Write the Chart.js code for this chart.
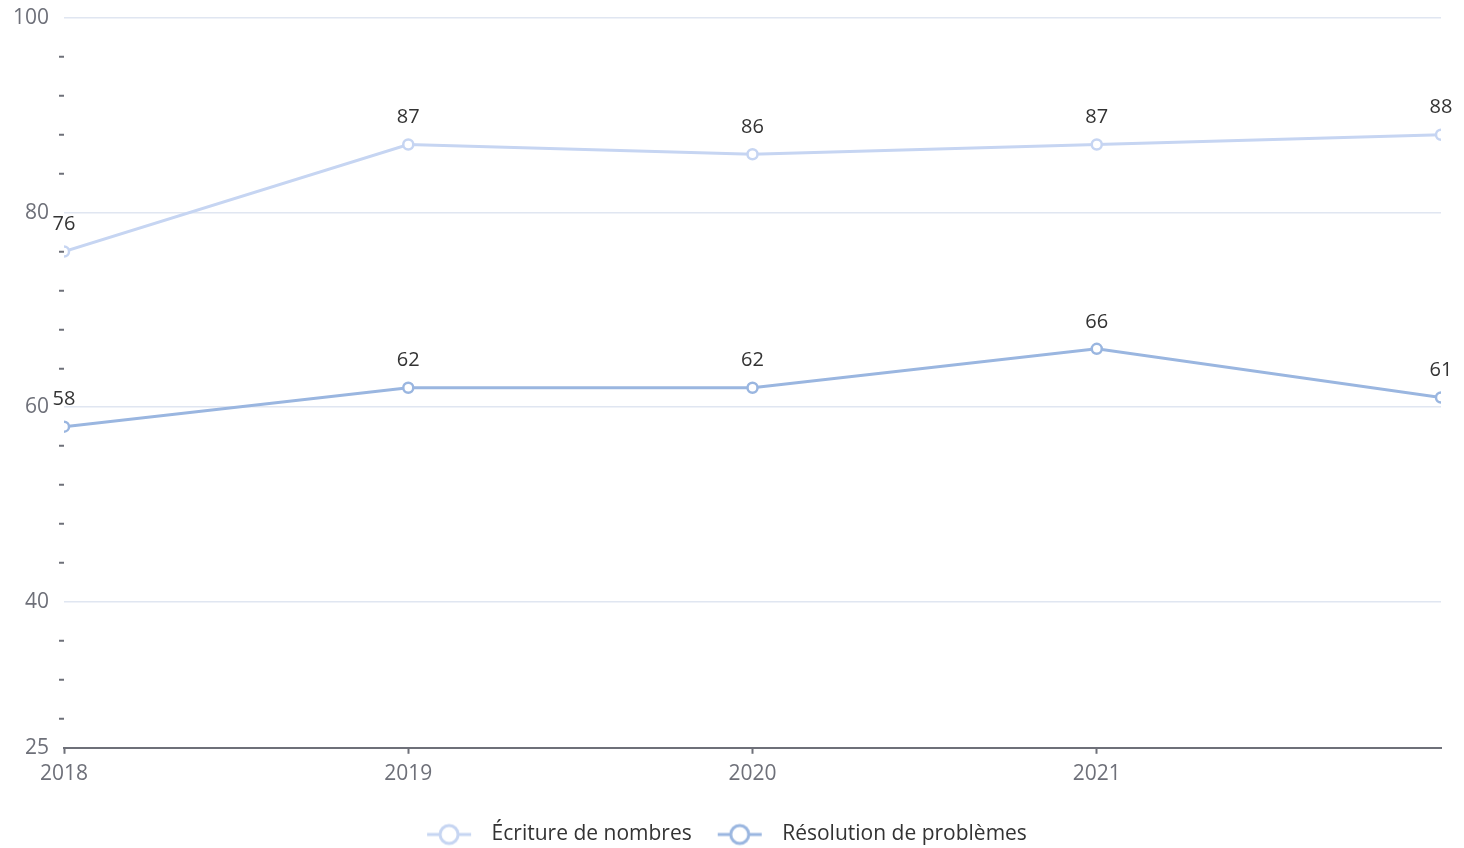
<!DOCTYPE html>
<html>
<head>
<meta charset="utf-8">
<script src="https://cdn.jsdelivr.net/npm/chart.js@4/dist/chart.umd.min.js"></script>
<style>
  html, body { margin: 0; padding: 0; background: #fff; }
  #wrap { position: relative; width: 1464px; height: 848px; }
</style>
</head>
<body>
<div id="wrap"><canvas id="chart"></canvas></div>
<script>
const years = [2018, 2019, 2020, 2021, 2022];
const ecritureValues = [76, 87, 86, 87, 88];
const resolutionValues = [58, 62, 62, 66, 61];
const seriesNames = ['Écriture de nombres', 'Résolution de problèmes'];
const seriesColors = ['#c6d5f2', '#9ab6e0'];
const yMajorTicks = [25, 40, 60, 80, 100];
const yMinorTicks = [28, 32, 36, 44, 48, 52, 56, 64, 68, 72, 76, 84, 88, 92, 96];
const xTickLabels = ['2018', '2019', '2020', '2021'];

const FONT = "'Open Sans', 'Noto Sans', sans-serif";

// small legend icon: line with hollow circle
function legendIcon(color) {
  const c = document.createElement('canvas');
  c.width = 46; c.height = 24;
  const g = c.getContext('2d');
  g.strokeStyle = color;
  g.lineWidth = 3;
  g.beginPath(); g.moveTo(1, 12); g.lineTo(45, 12); g.stroke();
  g.fillStyle = '#fff';
  g.beginPath(); g.arc(23, 12, 9, 0, Math.PI * 2); g.fill(); g.stroke();
  return c;
}

// value labels above the points
const valueLabels = {
  id: 'valueLabels',
  afterDatasetsDraw(chart) {
    const ctx = chart.ctx;
    ctx.save();
    ctx.font = '20px ' + FONT;
    ctx.fillStyle = '#333';
    ctx.textAlign = 'center';
    ctx.textBaseline = 'middle';
    chart.data.datasets.forEach((ds, i) => {
      chart.getDatasetMeta(i).data.forEach((pt, j) => {
        ctx.fillText(String(ds.data[j].y), pt.x, pt.y - 27);
      });
    });
    ctx.restore();
  }
};

const ctx = document.getElementById('chart').getContext('2d');
new Chart(ctx, {
  type: 'line',
  data: {
    datasets: [
      {
        label: seriesNames[0],
        data: years.map((y, i) => ({ x: y, y: ecritureValues[i] })),
        borderColor: seriesColors[0],
        backgroundColor: '#fff',
        borderWidth: 3,
        pointRadius: 5,
        pointBorderWidth: 2.5,
        pointBackgroundColor: '#fff',
        tension: 0
      },
      {
        label: seriesNames[1],
        data: years.map((y, i) => ({ x: y, y: resolutionValues[i] })),
        borderColor: seriesColors[1],
        backgroundColor: '#fff',
        borderWidth: 3,
        pointRadius: 5,
        pointBorderWidth: 2.5,
        pointBackgroundColor: '#fff',
        tension: 0
      }
    ]
  },
  options: {
    responsive: true,
    maintainAspectRatio: false,
    animation: false,
    layout: { padding: { top: 0, right: 23, left: 3, bottom: -7 } },
    scales: {
      x: {
        type: 'linear',
        min: 2018,
        max: 2022,
        afterBuildTicks: axis => { axis.ticks = years.map(v => ({ value: v })); },
        afterFit: axis => { axis.height += 13; },
        ticks: {
          autoSkip: false,
          maxRotation: 0,
          padding: 8,
          color: '#6e7079',
          font: { family: FONT, size: 21 },
          callback: (v, i) => xTickLabels[i] || ''
        },
        grid: {
          display: true,
          drawOnChartArea: false,
          drawTicks: true,
          tickLength: 6,
          tickWidth: 2,
          tickColor: c => (c.index < xTickLabels.length ? '#6e7079' : 'transparent')
        },
        border: { display: true, color: '#6e7079', width: 2 }
      },
      y: {
        min: 25,
        max: 100,
        afterBuildTicks: axis => {
          axis.ticks = yMajorTicks.concat(yMinorTicks).sort((a, b) => a - b).map(v => ({ value: v }));
        },
        afterFit: axis => { axis.paddingTop = 18; },
        ticks: {
          autoSkip: false,
          padding: 10,
          color: '#6e7079',
          font: { family: FONT, size: 21 },
          callback: v => (yMajorTicks.includes(v) ? String(v) : '')
        },
        grid: {
          drawTicks: true,
          tickLength: 5,
          tickWidth: 2,
          lineWidth: 1.5,
          color: c => (c.tick && yMajorTicks.includes(c.tick.value) && c.tick.value !== 25 ? '#e0e6f1' : 'transparent'),
          tickColor: c => (c.tick && !yMajorTicks.includes(c.tick.value) ? '#6e7079' : 'transparent')
        },
        border: { display: false }
      }
    },
    plugins: {
      legend: {
        position: 'bottom',
        labels: {
          usePointStyle: true,
          pointStyleWidth: 64,
          color: '#333',
          font: { family: FONT, size: 21 },
          padding: 16,
          generateLabels: chart => chart.data.datasets.map((ds, i) => ({
            text: ds.label,
            pointStyle: legendIcon(seriesColors[i]),
            fillStyle: '#fff',
            strokeStyle: seriesColors[i],
            lineWidth: 0,
            fontColor: '#333',
            hidden: false,
            datasetIndex: i
          }))
        }
      },
      tooltip: { enabled: false }
    }
  },
  plugins: [valueLabels]
});
</script>
</body>
</html>
